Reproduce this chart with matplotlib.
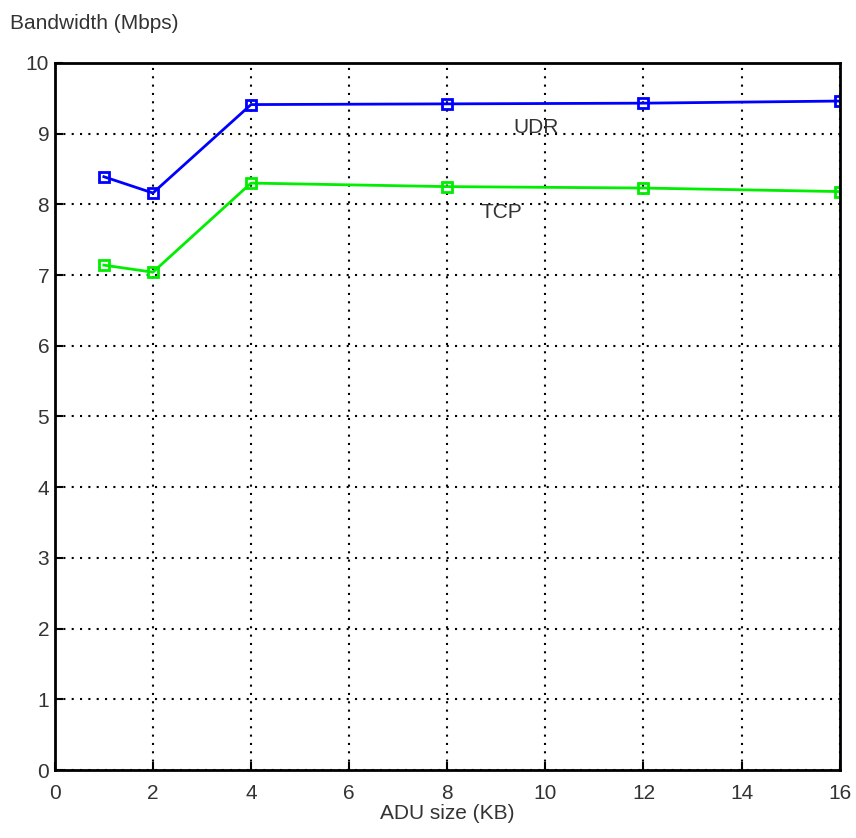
import matplotlib.pyplot as plt

plt.rcParams['font.family'] = ['Liberation Sans', 'DejaVu Sans']

adu = [1, 2, 4, 8, 12, 16]
udr = [8.39, 8.16, 9.41, 9.42, 9.43, 9.46]
tcp = [7.14, 7.04, 8.30, 8.25, 8.23, 8.18]

fig = plt.figure(figsize=(8.56, 8.38), dpi=100)
ax = fig.add_axes([0.064, 0.081, 0.917, 0.844])

ax.plot(adu, udr, color='#0000ff', lw=2, marker='s', ms=7, mfc='none', mew=2)
ax.plot(adu, tcp, color='#00ee00', lw=2, marker='s', ms=7, mfc='none', mew=2)

ax.text(9.8, 9.08, 'UDR', fontsize=15, color='#333333', ha='center', va='center')
ax.text(9.1, 7.88, 'TCP', fontsize=15, color='#333333', ha='center', va='center')

ax.set_xlim(0, 16)
ax.set_ylim(0, 10)
ax.set_xticks(range(0, 17, 2))
ax.set_yticks(range(0, 11))
ax.grid(True, color='black', linestyle=(0, (1, 3)), lw=1.5)
ax.tick_params(direction='in', length=6, width=1.5, labelsize=15, labelcolor='#333333')
ax.tick_params(axis='x', pad=10)
ax.tick_params(axis='y', pad=4)
for s in ax.spines.values():
    s.set_linewidth(2)

ax.set_xlabel('ADU size (KB)', fontsize=15, color='#333333', labelpad=1)
fig.text(0.012, 0.972, 'Bandwidth (Mbps)', fontsize=15, color='#333333', ha='left', va='center')

fig.savefig('out.png')
